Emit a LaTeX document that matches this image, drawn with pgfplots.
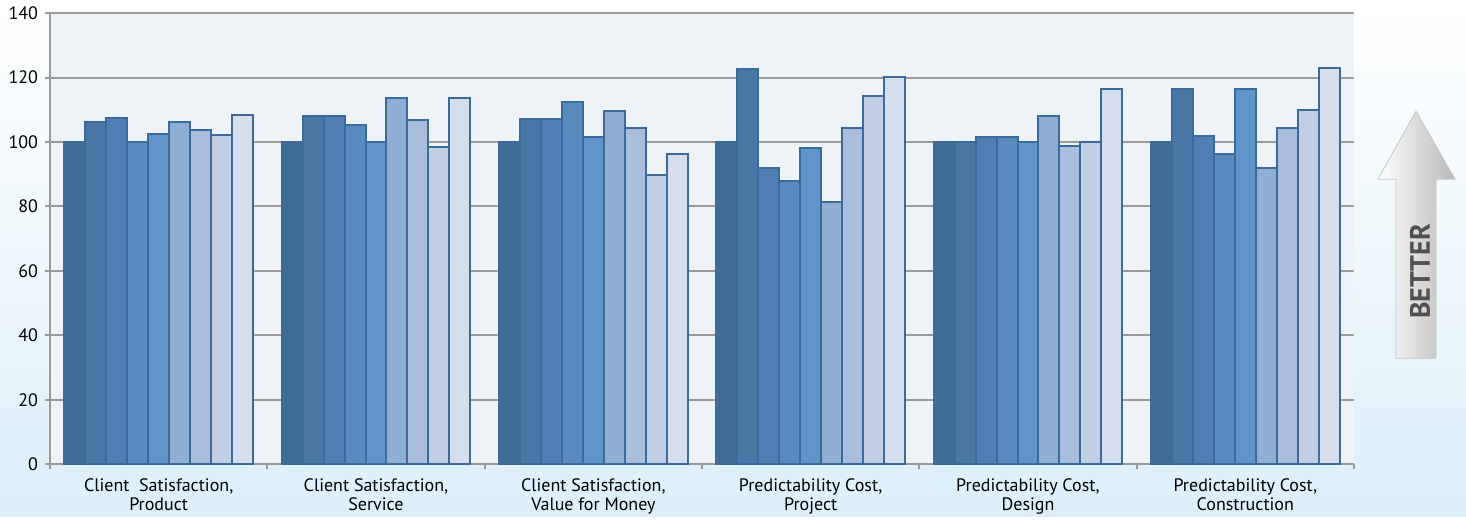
\documentclass[border=0pt]{standalone}
\usepackage{pgfplots}
\pgfplotsset{compat=1.18}
\usepackage{pgfplotstable}
\usepackage{fontspec}
\setmainfont{PT Sans}
\definecolor{c1}{HTML}{3E6C96}
\definecolor{c2}{HTML}{4A77A6}
\definecolor{c3}{HTML}{5080B3}
\definecolor{c4}{HTML}{5A8BBF}
\definecolor{c5}{HTML}{6095C9}
\definecolor{c6}{HTML}{90AED4}
\definecolor{c7}{HTML}{ABBDDC}
\definecolor{c8}{HTML}{C2CEE4}
\definecolor{c9}{HTML}{D5DEEC}
\definecolor{edge}{HTML}{3A6B9A}
\definecolor{gridc}{HTML}{9A9A9A}
\definecolor{plotbg}{HTML}{EEF3F8}
\definecolor{bgblue}{HTML}{DCEFF9}
\definecolor{arrowgray}{HTML}{B8B8B8}
\definecolor{textgray}{HTML}{505050}

\pgfplotstableread{
x s1 s2 s3 s4 s5 s6 s7 s8 s9
0 100 106.3 107.5 99.9 102.6 106.3 103.6 102.1 108.4
1 100 108.0 108.0 105.3 100.0 113.8 106.9 98.4 113.8
2 100 107.0 107.0 112.3 101.6 109.6 104.3 89.8 96.2
3 100 122.6 91.8 87.9 98.2 81.5 104.3 114.4 120.2
4 100 100.0 101.6 101.6 100.0 108.0 98.7 100.0 116.5
5 100 116.5 102.0 96.2 116.5 91.8 104.3 109.8 123.0
}\data

\begin{document}
\begin{tikzpicture}
\shade[top color=white, middle color=white, bottom color=bgblue] (0,0) rectangle (733pt,257.5pt);
\begin{axis}[
  at={(25pt,26pt)}, anchor=south west,
  scale only axis, width=652pt, height=225.5pt,
  ybar=0pt, bar width=0.0966,
  xmin=-0.5, xmax=5.5, ymin=0, ymax=140,
  ytick={0,20,...,140},
  ymajorgrids,
  grid style={gridc, line width=1pt},
  axis x line*=bottom, axis y line*=left,
  axis line style={gridc, line width=1pt, -},
  axis background/.style={fill=plotbg},
  tick align=outside,
  major tick length=2.5pt,
  tick style={gridc, line width=1pt},
  xtick={0,...,5},
  xticklabels={{Client~~Satisfaction,\\Product},{Client Satisfaction,\\Service},{Client Satisfaction,\\Value for Money},{Predictability Cost,\\Project},{Predictability Cost,\\Design},{Predictability Cost,\\Construction}},
  x tick style={draw=none},
  extra x ticks={-0.5,0.5,...,5.5},
  extra x tick labels={},
  extra x tick style={x tick style={draw=gridc, line width=1pt}, grid=none},
  xticklabel style={align=center, font=\fontsize{9}{9.5}\selectfont, text=black, yshift=-1pt},
  yticklabel style={font=\fontsize{9}{10}\selectfont, text=black},
  /pgf/number format/assume math mode=true,
  clip=false,
]
\addplot[fill=c1, draw=c1, line width=1pt] table[x=x,y=s1]{\data};
\addplot[fill=c2, draw=edge, line width=1pt] table[x=x,y=s2]{\data};
\addplot[fill=c3, draw=edge, line width=1pt] table[x=x,y=s3]{\data};
\addplot[fill=c4, draw=edge, line width=1pt] table[x=x,y=s4]{\data};
\addplot[fill=c5, draw=edge, line width=1pt] table[x=x,y=s5]{\data};
\addplot[fill=c6, draw=edge, line width=1pt] table[x=x,y=s6]{\data};
\addplot[fill=c7, draw=edge, line width=1pt] table[x=x,y=s7]{\data};
\addplot[fill=c8, draw=edge, line width=1pt] table[x=x,y=s8]{\data};
\addplot[fill=c9, draw=edge, line width=1pt] table[x=x,y=s9]{\data};
\end{axis}
\shade[left color=white, right color=arrowgray, draw=arrowgray!80, line width=0.4pt]
  (698pt,79pt) -- (698pt,168.5pt) -- (689pt,168.5pt) -- (708pt,202.5pt) -- (727.5pt,168.5pt) -- (718pt,168.5pt) -- (718pt,79pt) -- cycle;
\node[rotate=90, text=textgray, font=\fontsize{14}{14}\selectfont\bfseries] at (710pt,122.5pt) {BETTER};
\end{tikzpicture}
\end{document}
